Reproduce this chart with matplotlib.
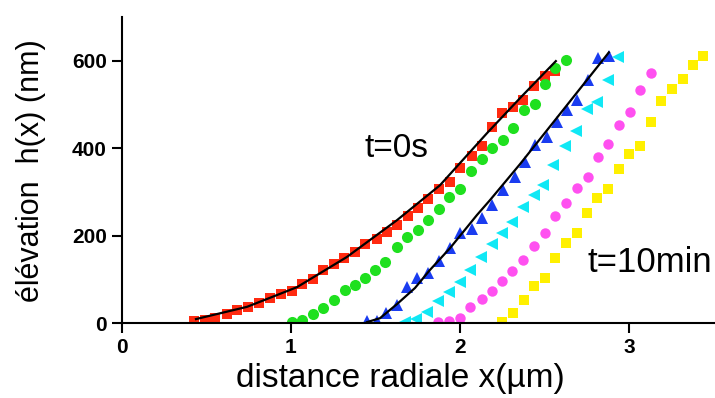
import matplotlib
matplotlib.use('Agg')
import matplotlib.pyplot as plt

plt.rcParams['font.family'] = ['Liberation Sans', 'DejaVu Sans']

# ===== DATA =====
# t = 0 s (red squares) + fit
red_x = [0.426, 0.491, 0.550, 0.621, 0.680, 0.746, 0.811, 0.876, 0.941, 1.006, 1.065, 1.130,
         1.189, 1.254, 1.314, 1.379, 1.438, 1.509, 1.568, 1.627, 1.692, 1.751, 1.811, 1.876,
         1.941, 2.000, 2.071, 2.130, 2.189, 2.249, 2.314, 2.373, 2.438, 2.503, 2.562]
red_y = [5, 7, 11, 21, 30, 37, 46, 57, 66, 73, 89, 101,
         121, 135, 149, 162, 181, 192, 208, 224, 245, 263, 283, 306,
         322, 354, 382, 405, 448, 480, 494, 510, 542, 565, 576]
fit0_x = [0.438, 0.740, 1.036, 1.331, 1.627, 1.882, 2.160, 2.355, 2.568]
fit0_y = [9, 37, 82, 151, 235, 315, 434, 514, 599]

green_x = [1.006, 1.065, 1.130, 1.189, 1.254, 1.320, 1.379, 1.438, 1.497, 1.556, 1.627, 1.686,
           1.751, 1.811, 1.876, 1.935, 2.000, 2.065, 2.130, 2.189, 2.254, 2.314, 2.379, 2.444,
           2.503, 2.562, 2.627]
green_y = [2, 7, 21, 34, 53, 75, 87, 103, 121, 139, 174, 197,
           213, 235, 261, 288, 306, 347, 375, 400, 418, 446, 487, 501,
           546, 583, 601]

blue_x = [1.450, 1.509, 1.562, 1.627, 1.686, 1.746, 1.811, 1.876, 1.941, 2.000, 2.071, 2.130,
          2.189, 2.254, 2.325, 2.385, 2.444, 2.515, 2.574, 2.633, 2.692, 2.757, 2.817, 2.882]
blue_y = [5, 5, 23, 41, 82, 103, 114, 142, 171, 206, 215, 240,
          270, 304, 334, 368, 407, 425, 459, 487, 510, 555, 606, 610]
fit_blue_x = [1.450, 1.527, 1.627, 1.734, 1.822, 1.941, 2.101, 2.178, 2.355, 2.592, 2.882]
fit_blue_y = [2, 11, 43, 80, 121, 171, 247, 281, 363, 478, 619]

cyan_x = [1.675, 1.740, 1.805, 1.870, 1.935, 2.000, 2.059, 2.124, 2.189, 2.249, 2.308, 2.373,
          2.438, 2.491, 2.550, 2.621, 2.686, 2.751, 2.811, 2.876, 2.935]
cyan_y = [2, 9, 25, 50, 71, 94, 121, 151, 181, 206, 231, 265,
          293, 315, 361, 405, 439, 489, 505, 555, 608]

magenta_x = [1.870, 1.935, 2.000, 2.059, 2.130, 2.189, 2.249, 2.308, 2.373, 2.438, 2.503,
             2.562, 2.627, 2.692, 2.757, 2.817, 2.876, 2.941, 3.006, 3.065, 3.130]
magenta_y = [2, 5, 11, 37, 55, 73, 96, 119, 144, 176, 206,
             245, 274, 309, 334, 379, 409, 453, 482, 533, 571]

yellow_x = [2.249, 2.314, 2.379, 2.438, 2.503, 2.562, 2.627, 2.692, 2.751, 2.811,
            2.876, 2.941, 3.000, 3.065, 3.130, 3.189, 3.254, 3.320, 3.379, 3.438]
yellow_y = [2, 23, 53, 85, 103, 149, 183, 206, 251, 286,
            306, 352, 386, 405, 459, 507, 535, 558, 590, 610]

x_ticks = [0, 1, 2, 3]
y_ticks = [0, 200, 400, 600]

# ===== PLOT =====
fig = plt.figure(figsize=(7.15, 3.98), dpi=100)
ax = fig.add_axes([0.1706, 0.1884, 0.8294, 0.769])

ax.plot(red_x, red_y, 's', color='#ff2a10', ms=7.5, mew=0)
ax.plot(green_x, green_y, 'o', color='#1fe01f', ms=8, mew=0)
ax.plot(blue_x, blue_y, '^', color='#1a3cf0', ms=8.5, mew=0)
ax.plot(cyan_x, cyan_y, '<', color='#10e8f5', ms=8.5, mew=0)
ax.plot(magenta_x, magenta_y, 'o', color='#ff50f0', ms=7.5, mew=0)
ax.plot(yellow_x, yellow_y, 's', color='#fff000', ms=6.5, mew=0)

ax.plot(fit0_x, fit0_y, color='black', lw=1.6)
ax.plot(fit_blue_x, fit_blue_y, color='black', lw=1.6)

ax.text(1.627, 400, 't=0s', fontsize=24, ha='center', va='center')
ax.text(2.757, 139, 't=10min', fontsize=25, ha='left', va='center')

ax.set_xlim(0, 3.51)
ax.set_ylim(0, 700)
ax.set_xticks(x_ticks)
ax.set_yticks(y_ticks)
ax.spines['top'].set_visible(False)
ax.spines['right'].set_visible(False)
ax.spines['left'].set_linewidth(1.5)
ax.spines['bottom'].set_linewidth(1.5)
ax.tick_params(direction='out', length=7, width=1.5, labelsize=15, pad=4)
for lbl in ax.get_xticklabels() + ax.get_yticklabels():
    lbl.set_fontweight('bold')

ax.set_xlabel('distance radiale x(\u00b5m)', fontsize=24)
ax.set_ylabel('\u00e9l\u00e9vation  h(x) (nm)', fontsize=22)
ax.xaxis.set_label_coords(0.469, -0.13)
ax.yaxis.set_label_coords(-0.128, 0.497)

fig.savefig('out.png', dpi=100)
